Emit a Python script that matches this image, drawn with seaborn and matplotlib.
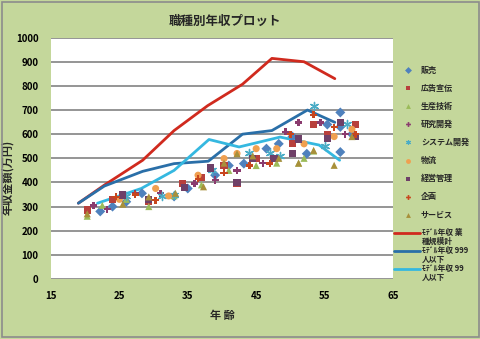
import matplotlib
matplotlib.use("Agg")
import matplotlib.pyplot as plt
from matplotlib.lines import Line2D
from matplotlib.patches import Rectangle
import seaborn as sns
import pandas as pd

sns.set_theme(style="white")
plt.rcParams['font.family'] = ['Noto Sans CJK JP', 'DejaVu Sans']

# ---- data ----
categories = ["販売", "広告宣伝", "生産技術", "研究開発", "システム開発", "物流", "経営管理", "企画", "サービス"]

age_hanbai = [22.2, 24.0, 26.0, 28.3, 33.0, 35.0, 39.0, 41.0, 43.2, 46.5, 48.3, 50.3, 52.4, 55.4, 57.3, 57.3, 57.3, 59.0]
val_hanbai = [280, 300, 320, 355, 342, 375, 430, 470, 478, 540, 560, 590, 519, 640, 690, 630, 526, 600]

age_koukoku = [20.3, 24.0, 29.3, 34.2, 37.0, 40.3, 42.2, 45.0, 47.5, 50.3, 53.4, 55.4, 59.5]
val_koukoku = [286, 330, 320, 396, 420, 470, 396, 500, 500, 560, 640, 600, 640]

age_seisan = [20.3, 22.5, 26.0, 29.3, 33.0, 37.0, 41.0, 45.0, 48.0, 51.2, 53.4, 52.0]
val_seisan = [260, 305, 330, 300, 345, 390, 450, 470, 480, 480, 530, 500]

age_kenkyu = [21.2, 23.2, 27.3, 31.0, 36.0, 39.0, 42.2, 46.0, 49.3, 51.2, 54.4, 58.0]
val_kenkyu = [304, 289, 355, 355, 395, 410, 450, 480, 610, 649, 649, 600]

age_system = [26.0, 31.2, 33.0, 38.5, 44.0, 47.0, 48.5, 53.4, 55.0, 58.3]
val_system = [345, 344, 350, 450, 520, 520, 510, 718, 550, 642]

age_butsuryu = [25.0, 30.3, 32.2, 36.5, 40.3, 42.2, 45.0, 48.0, 52.0, 56.4, 59.0]
val_butsuryu = [330, 375, 344, 430, 499, 520, 540, 540, 560, 590, 620]

age_keiei = [25.5, 29.3, 34.5, 38.3, 42.2, 44.5, 47.6, 50.3, 51.2, 55.4, 57.3, 59.5]
val_keiei = [348, 330, 380, 460, 400, 500, 500, 520, 580, 581, 650, 590]

age_kikaku = [24.5, 27.3, 30.3, 36.5, 40.3, 44.0, 47.0, 50.0, 53.4, 56.4, 59.5]
val_kikaku = [340, 350, 327, 415, 440, 470, 478, 600, 680, 629, 600]

age_service = [20.3, 25.5, 29.3, 33.2, 37.3, 40.3, 42.2, 44.5, 48.3, 51.2, 53.4, 56.4, 59.0]
val_service = [270, 310, 340, 355, 382, 480, 519, 510, 500, 480, 533, 471, 590]

line_labels = ["ﾓﾃﾞﾙ年収 業\n種規模計", "ﾓﾃﾞﾙ年収 999\n人以下", "ﾓﾃﾞﾙ年収 99\n人以下"]
age_total = [19, 22.8, 28.4, 33, 37.9, 43, 47.3, 52, 56.5]
val_total = [314, 389, 492, 615, 718, 807, 914, 900, 830]
age_999 = [19, 22.8, 28.4, 33, 38, 43, 47.3, 52.5, 56.5]
val_999 = [314, 385, 446, 478, 488, 600, 615, 700, 649]
age_99 = [21.8, 28.2, 33, 38.1, 42.5, 48.5, 54.2, 57.2]
val_99 = [314, 375, 450, 578, 547, 588, 555, 492]

# ---- styling ----
colors = {"販売": "#4F81BD", "広告宣伝": "#B8403C", "生産技術": "#9BBB59", "研究開発": "#8A3B6E",
          "システム開発": "#4BACC6", "物流": "#F0A050", "経営管理": "#6E4068", "企画": "#C8461E",
          "サービス": "#A8903A"}
markers = {"販売": "D", "広告宣伝": "s", "生産技術": "^", "研究開発": "P",
           "システム開発": (6, 2, 0), "物流": "o", "経営管理": "s", "企画": "P", "サービス": "^"}
line_colors = ["#D02A1E", "#2A6FA8", "#35B8E0"]

ages = [age_hanbai, age_koukoku, age_seisan, age_kenkyu, age_system, age_butsuryu, age_keiei, age_kikaku, age_service]
vals = [val_hanbai, val_koukoku, val_seisan, val_kenkyu, val_system, val_butsuryu, val_keiei, val_kikaku, val_service]

W, H = 481, 339
fig = plt.figure(figsize=(W / 100, H / 100), dpi=100)
fig.patch.set_facecolor("#C4D79B")
fig.patches.append(Rectangle((0.004, 0.006), 0.992, 0.988, transform=fig.transFigure,
                             fill=False, edgecolor="#8C8C8C", linewidth=1.2))
ax = fig.add_axes([0.106, 0.177, 0.711, 0.712])
ax.set_facecolor("white")

# lines
for lab, a, v, col in zip(line_labels, [age_total, age_999, age_99], [val_total, val_999, val_99], line_colors):
    ldf = pd.DataFrame({"age": a, "val": v})
    sns.lineplot(data=ldf, x="age", y="val", ax=ax, color=col, linewidth=2.0,
                 sort=False, estimator=None, legend=False, zorder=2)

for c, a, v in zip(categories, ages, vals):
    cdf = pd.DataFrame({"age": a, "val": v})
    m = markers[c]
    if isinstance(m, tuple):
        sns.scatterplot(data=cdf, x="age", y="val", ax=ax, marker=m, s=34, color=colors[c],
                        linewidth=1.0, legend=False, zorder=3)
    else:
        sns.scatterplot(data=cdf, x="age", y="val", ax=ax, marker=m, s=26, color=colors[c],
                        edgecolor="none", legend=False, zorder=3)

ax.set_xlim(15, 65)
ax.set_ylim(0, 1000)
ax.set_xticks([15, 25, 35, 45, 55, 65])
ax.set_yticks(range(0, 1001, 100))
ax.yaxis.grid(True, color="#8C8C8C", linewidth=1.3)
ax.set_axisbelow(True)
for s in ax.spines.values():
    s.set_visible(False)
ax.tick_params(axis="both", length=0, labelsize=7, colors="black")
ax.tick_params(axis="x", pad=9)
ax.tick_params(axis="y", pad=9)
for t in ax.get_xticklabels() + ax.get_yticklabels():
    t.set_fontweight("bold")
ax.set_xlabel("年 齢", fontsize=8, fontweight="bold")
ax.xaxis.set_label_coords(0.5, -0.125)
ax.set_ylabel("年収金額(万円)", fontsize=8, fontweight="bold")
ax.yaxis.set_label_coords(-0.108, 0.42)
fig.text(225 / W, 1 - 21 / H, "職種別年収プロット", ha="center", va="center", fontsize=9, fontweight="bold")

# legend drawn in figure pixel positions
y0, dy = 70, 18.1
for i, c in enumerate(categories):
    yf = 1 - (y0 + dy * i) / H
    m = markers[c]
    fig.add_artist(Line2D([408 / W], [yf], linestyle="none", marker=m, color=colors[c],
                          markersize=3.5, markeredgewidth=0.8 if isinstance(m, tuple) else 0,
                          transform=fig.transFigure))
    fig.text(421 / W, yf, c, ha="left", va="center", fontsize=5.8, fontweight="bold")
for j, (lab, col) in enumerate(zip(line_labels, line_colors)):
    yp = y0 + dy * (9 + j)
    yf = 1 - yp / H
    fig.add_artist(Line2D([394 / W, 420 / W], [yf, yf], color=col, linewidth=2.0,
                          transform=fig.transFigure))
    fig.text(422 / W, 1 - (yp - 5.0) / H, lab, ha="left", va="top", fontsize=5.6,
             fontweight="bold", linespacing=0.95)

fig.savefig("out.png", dpi=100, facecolor=fig.get_facecolor())
